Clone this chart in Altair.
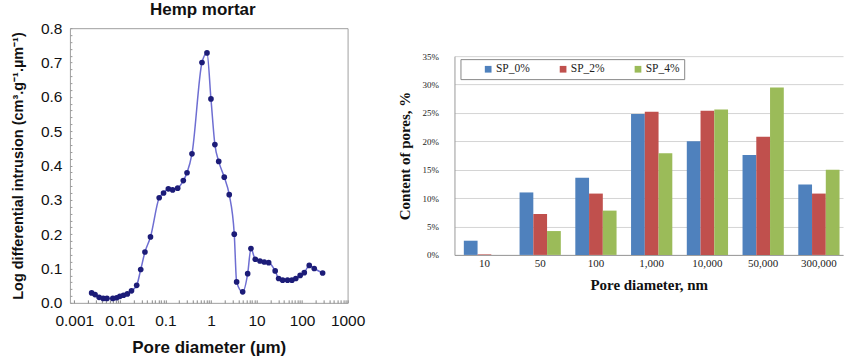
import altair as alt
import pandas as pd

# ---------------- Left panel: Hemp mortar pore size distribution ----------------
pore_um = [0.0024, 0.00285, 0.0035, 0.0043, 0.0052, 0.0070, 0.0085, 0.010, 0.012, 0.0146,
           0.018, 0.0234, 0.0287, 0.0355, 0.047, 0.073, 0.091, 0.116, 0.144, 0.186,
           0.247, 0.298, 0.383, 0.635, 0.818, 1.0, 1.22, 1.48, 1.96, 2.52,
           3.25, 3.66, 4.97, 6.4, 7.55, 9.4, 11.9, 14.8, 18.5, 25.7,
           30.6, 37.5, 48, 60, 73, 91, 112, 144, 185, 283]
intrusion = [0.029, 0.024, 0.016, 0.013, 0.013, 0.013, 0.015, 0.019, 0.022, 0.026,
             0.035, 0.051, 0.097, 0.148, 0.192, 0.306, 0.320, 0.332, 0.329, 0.334,
             0.356, 0.379, 0.434, 0.700, 0.728, 0.594, 0.461, 0.412, 0.366, 0.315,
             0.200, 0.061, 0.032, 0.085, 0.158, 0.127, 0.122, 0.119, 0.117, 0.093,
             0.071, 0.066, 0.066, 0.066, 0.071, 0.080, 0.088, 0.109, 0.100, 0.087]
x_major = [0.001, 0.01, 0.1, 1, 10, 100, 1000]
x_minor = [m * 10 ** e for e in range(-3, 3) for m in range(2, 10)]
y_major = [0, 0.1, 0.2, 0.3, 0.4, 0.5, 0.6, 0.7, 0.8]
y_minor = [round(i * 0.02, 2) for i in range(41)]

# ---------------- Right panel: content of pores ----------------
categories = ["10", "50", "100", "1,000", "10,000", "50,000", "300,000"]
series = ["SP_0%", "SP_2%", "SP_4%"]
sp0 = [2.5, 11.0, 13.6, 24.8, 20.0, 17.6, 12.4]
sp2 = [0.1, 7.2, 10.8, 25.2, 25.4, 20.8, 10.8]
sp4 = [0.0, 4.2, 7.8, 17.9, 25.6, 29.5, 15.0]
bar_colors = ["#4F81BD", "#C0504D", "#9BBB59"]
y_ticks_pct = [0, 5, 10, 15, 20, 25, 30, 35]

SANS = "Liberation Sans"
SERIF = "Liberation Serif"

df_l = pd.DataFrame({"d": pore_um, "v": intrusion})

x_scale = alt.Scale(type="log", domain=[0.0008, 1000], nice=False)
y_scale = alt.Scale(domain=[0, 0.8], nice=False)

line = alt.Chart(df_l).mark_line(
    interpolate="monotone", color="#6e6ed2", strokeWidth=1.5
).encode(
    x=alt.X("d:Q", scale=x_scale,
            axis=alt.Axis(values=x_major, format="~g", title="Pore diameter (µm)",
                          ticks=False, grid=False, domain=False,
                          labelFont=SANS, labelFontSize=15.5, labelColor="#111",
                          labelPadding=11, labelOverlap=False, labelFlush=False,
                          titleFont=SANS, titleFontSize=17,
                          titleFontWeight="bold", titleColor="#111", titlePadding=10,
                          orient="bottom")),
    y=alt.Y("v:Q", scale=y_scale,
            axis=alt.Axis(values=y_major, format=".1f",
                          title="Log differential intrusion (cm³.g⁻¹.µm⁻¹)",
                          ticks=False, grid=False, domain=False,
                          labelFont=SANS, labelFontSize=15.5, labelColor="#111",
                          labelPadding=8, labelOverlap=False,
                          titleFont=SANS, titleFontSize=14.5,
                          titleFontWeight="bold", titleColor="#111", titlePadding=15,
                          orient="left")),
)

points = alt.Chart(df_l).mark_point(
    filled=True, shape="circle", size=32, color="#1c1c78", opacity=1
).encode(
    x=alt.X("d:Q", scale=x_scale,
            axis=alt.Axis(values=x_minor + x_major, labels=False, title=None, grid=False,
                          domain=False, tickSize=3, offset=-3, tickColor="#888",
                          orient="bottom")),
    y=alt.Y("v:Q", scale=y_scale,
            axis=alt.Axis(values=y_minor, labels=False, title=None, grid=False,
                          domain=False, tickSize=2, offset=-2, tickColor="#999",
                          orient="left")),
)

left = alt.layer(line, points).resolve_axis(x="independent", y="independent").properties(
    width=278, height=275,
    title=alt.TitleParams("Hemp mortar", font=SANS, fontSize=17, fontWeight="bold",
                          color="#111", offset=2, dx=-6),
)

rows = []
for i, c in enumerate(categories):
    for s, vals in zip(series, [sp0, sp2, sp4]):
        rows.append({"cat": c, "series": s, "val": vals[i]})
df_r = pd.DataFrame(rows)

right = alt.Chart(df_r).mark_bar().encode(
    x=alt.X("cat:N", sort=categories,
            scale=alt.Scale(paddingInner=0.26, paddingOuter=0.115, align=0.73),
            axis=alt.Axis(title="Pore diameter, nm", labelAngle=0, ticks=False,
                          domainColor="#999", labelFont=SERIF, labelFontSize=11,
                          labelColor="#222", labelPadding=3, titleFont=SERIF,
                          titleFontSize=15, titleFontWeight="bold", titleColor="#111",
                          titlePadding=9)),
    xOffset=alt.XOffset("series:N", sort=series),
    y=alt.Y("val:Q", scale=alt.Scale(domain=[0, 35], nice=False, range=[227, 28]),
            axis=alt.Axis(values=y_ticks_pct, labelExpr="datum.value + '%'",
                          title="Content of pores, %", ticks=False,
                          domainColor="#999", gridColor="#d4d4d4",
                          labelFont=SERIF, labelFontSize=9, labelColor="#222",
                          labelPadding=16, titleFont=SERIF, titleFontSize=15,
                          titleFontWeight="bold", titleColor="#111", titlePadding=10)),
    color=alt.Color("series:N", sort=series,
                    scale=alt.Scale(domain=series, range=bar_colors),
                    legend=alt.Legend(title="\u00a0", titleOrient="left", titlePadding=18,
                                      titleFontSize=11,
                                      orient="none", legendX=6, legendY=31,
                                      direction="horizontal", symbolType="square",
                                      symbolSize=45, labelOffset=2,
                                      labelExpr="datum.label == 'SP_4%' ? datum.label + '\u00a0\u00a0\u00a0\u00a0\u00a0\u00a0\u00a0' : datum.label",
                                      labelFont=SERIF, labelFontSize=11.5, labelColor="#222",
                                      columnPadding=27, strokeColor="#888",
                                      fillColor="white", padding=4)),
).properties(
    width=389, height=227,
    view=alt.ViewBackground(stroke="transparent"),
)

chart = alt.hconcat(left, right, spacing=31).resolve_scale(
    x="independent", y="independent", color="independent"
).configure(padding={"left": 9, "top": 0, "right": 0, "bottom": 0}).configure_view(
    stroke="#a0a0a0"
)

chart.save("out.html", embed_options={"renderer": "svg", "actions": False})
